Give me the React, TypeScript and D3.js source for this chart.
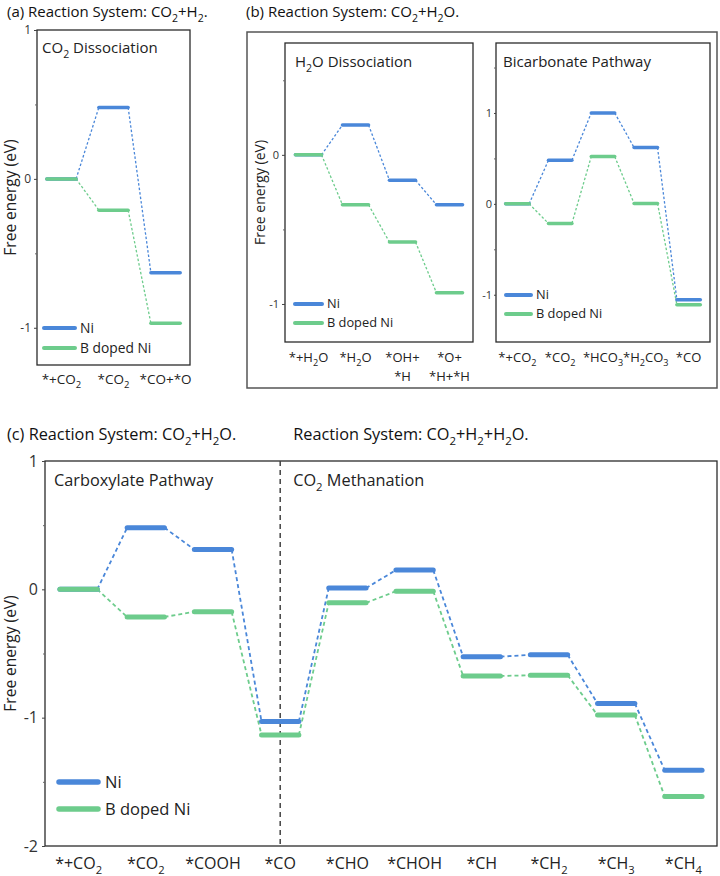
import React, { useEffect, useRef } from "react";
import * as d3 from "d3";

// free energy levels (eV) per reaction step; "_x" marks a subscript
const stepsCO2 = ["*+CO_2", "*CO_2", "*CO+*O"];
const niCO2 = [0, 0.48, -0.63];
const bNiCO2 = [0, -0.21, -0.97];

const stepsH2O = [["*+H_2O"], ["*H_2O"], ["*OH+", "*H"], ["*O+", "*H+*H"]];
const niH2O = [0, 0.2, -0.17, -0.335];
const bNiH2O = [0, -0.335, -0.585, -0.925];

const stepsBicarb = ["*+CO_2", "*CO_2", "*HCO_3", "*H_2CO_3", "*CO"];
const niBicarb = [0, 0.48, 1.0, 0.62, -1.055];
const bNiBicarb = [0, -0.215, 0.52, 0.005, -1.11];

const stepsMeth = ["*+CO_2", "*CO_2", "*COOH", "*CO", "*CHO", "*CHOH", "*CH", "*CH_2", "*CH_3", "*CH_4"];
const niMeth = [0, 0.48, 0.31, -1.03, 0.01, 0.15, -0.525, -0.51, -0.89, -1.41];
const bNiMeth = [0, -0.215, -0.175, -1.135, -0.105, -0.015, -0.675, -0.67, -0.98, -1.615];

const seriesNames = ["Ni", "B doped Ni"];
const BLUE = "#4a87d9";
const GREEN = "#6dcc8c";
const FONT = "'Open Sans', 'Noto Sans', sans-serif";

function richText(sel, str, fs) {
  const parts = str.split(/(_.)/).filter(Boolean);
  let sub = false;
  parts.forEach(part => {
    if (part.startsWith("_")) {
      sel.append("tspan").attr("font-size", fs * 0.7).attr("dy", fs * 0.3).text(part.slice(1));
      sub = true;
    } else {
      const t = sel.append("tspan").text(part);
      if (sub) t.attr("dy", -fs * 0.3);
      sub = false;
    }
  });
  return sel;
}

function drawPanel(svg, p) {
  const g = svg.append("g");
  const n = p.labels.length;

  const x = d3.scalePoint().domain(d3.range(n)).range([p.left, p.right]).padding(p.pad);
  const y = d3.scaleLinear().domain(p.domain).range([p.bottom, p.top]);
  const half = (x.step() * 0.63 - p.barW) / 2;

  // frame
  g.append("rect")
    .attr("x", p.left).attr("y", p.top)
    .attr("width", p.right - p.left).attr("height", p.bottom - p.top)
    .attr("fill", "none").attr("stroke", "#2b2b2b").attr("stroke-width", 1.3);

  // major + minor ticks
  const major = g.append("g").attr("transform", `translate(${p.left},0)`)
    .call(d3.axisLeft(y).tickValues(p.ticks).tickSize(p.tickSize).tickPadding(p.tickPad).tickFormat(d => String(d)));
  major.select(".domain").remove();
  major.selectAll("line").attr("stroke", "#444");
  major.selectAll("text").attr("font-size", p.tickFont).attr("font-family", FONT).attr("fill", "#333");

  const minor = g.append("g").attr("transform", `translate(${p.left},0)`)
    .call(d3.axisLeft(y).tickValues(p.minor).tickSize(2).tickFormat(() => ""));
  minor.select(".domain").remove();
  minor.selectAll("line").attr("stroke", "#666");

  if (p.divider !== undefined) {
    g.append("line")
      .attr("x1", x(p.divider)).attr("x2", x(p.divider))
      .attr("y1", p.top).attr("y2", p.bottom)
      .attr("stroke", "#444").attr("stroke-width", 1.5).attr("stroke-dasharray", "5,4");
  }

  // connectors then levels, Ni below B doped Ni
  const series = [p.ni, p.bni];
  const colors = [BLUE, GREEN];
  series.forEach((vals, si) => {
    g.append("g").selectAll("line")
      .data(d3.range(n - 1))
      .join("line")
      .attr("x1", i => x(i) + half).attr("y1", i => y(vals[i]))
      .attr("x2", i => x(i + 1) - half).attr("y2", i => y(vals[i + 1]))
      .attr("stroke", colors[si]).attr("stroke-width", p.dashW)
      .attr("stroke-dasharray", p.dash);
  });
  series.forEach((vals, si) => {
    g.append("g").selectAll("line")
      .data(vals)
      .join("line")
      .attr("x1", (d, i) => x(i) - half).attr("x2", (d, i) => x(i) + half)
      .attr("y1", d => y(d)).attr("y2", d => y(d))
      .attr("stroke", colors[si]).attr("stroke-width", p.barW)
      .attr("stroke-linecap", "round");
  });

  // step labels
  p.labels.forEach((lab, i) => {
    const lines = Array.isArray(lab) ? lab : [lab];
    lines.forEach((line, li) => {
      const t = g.append("text")
        .attr("x", x(i)).attr("y", p.labelY + li * p.labelLineH)
        .attr("text-anchor", "middle")
        .attr("font-family", FONT).attr("font-size", p.labelFont).attr("fill", "#222");
      richText(t, line, p.labelFont);
    });
  });

  // legend
  if (p.legend) {
    const L = p.legend;
    seriesNames.forEach((name, si) => {
      const ly = L.y + si * L.gap;
      g.append("line")
        .attr("x1", L.x).attr("x2", L.x + L.len)
        .attr("y1", ly).attr("y2", ly)
        .attr("stroke", colors[si]).attr("stroke-width", p.barW + 0.5)
        .attr("stroke-linecap", "round");
      g.append("text")
        .attr("x", L.x + L.len + L.textGap).attr("y", ly)
        .attr("dy", "0.35em")
        .attr("font-family", FONT).attr("font-size", L.font).attr("fill", "#222")
        .text(name);
    });
  }

  // titles inside the frame
  (p.titles || []).forEach(tt => {
    const t = g.append("text")
      .attr("x", tt.x).attr("y", tt.y)
      .attr("font-family", FONT).attr("font-size", tt.font).attr("fill", "#222");
    richText(t, tt.text, tt.font);
  });

  if (p.yLabel) {
    g.append("text")
      .attr("transform", `translate(${p.yLabel.x},${(p.top + p.bottom) / 2}) rotate(-90)`)
      .attr("text-anchor", "middle").attr("dy", "0.35em")
      .attr("font-family", FONT).attr("font-size", p.yLabel.font).attr("fill", "#222")
      .text("Free energy (eV)");
  }
  return { x, y };
}

const App = () => {
  const svgRef = useRef(null);

  useEffect(() => {
    const svg = d3.select(svgRef.current);
    svg.selectAll("*").remove();

    svg.append("rect").attr("width", 720).attr("height", 876).attr("fill", "#fff");

    // headings
    const head = (txt, x0, y0, fs) => {
      const t = svg.append("text").attr("x", x0).attr("y", y0)
        .attr("font-family", FONT).attr("font-size", fs).attr("fill", "#111");
      richText(t, txt, fs);
    };
    head("(a) Reaction System: CO_2+H_2.", 7, 17, 15);
    head("(b) Reaction System: CO_2+H_2O.", 246, 17, 15);
    head("(c) Reaction System: CO_2+H_2O.", 7, 440, 16.3);

    // (b) outer box
    svg.append("rect")
      .attr("x", 247).attr("y", 32).attr("width", 470).attr("height", 356)
      .attr("fill", "none").attr("stroke", "#555").attr("stroke-width", 1.5);

    drawPanel(svg, {
      left: 37, right: 190, top: 30, bottom: 365, pad: 0.47,
      domain: [-1.25, 1], ticks: [1, 0, -1], minor: [0.5, -0.5],
      tickSize: 3, tickPad: 3, tickFont: 12,
      labels: stepsCO2, ni: niCO2, bni: bNiCO2,
      barW: 3.5, dashW: 1.3, dash: "2.5,2",
      labelY: 384, labelLineH: 18, labelFont: 13.5,
      legend: { x: 44, y: 328, gap: 20, len: 31, textGap: 5, font: 13.8 },
      titles: [{ text: "CO_2 Dissociation", x: 42, y: 53, font: 15 }],
      yLabel: { x: 11, font: 15.5 },
    });

    drawPanel(svg, {
      left: 285, right: 473, top: 43, bottom: 342, pad: 0.5,
      domain: [-1.255, 0.75], ticks: [0, -1], minor: [0.5, -0.5],
      tickSize: 3, tickPad: 3, tickFont: 11,
      labels: stepsH2O, ni: niH2O, bni: bNiH2O,
      barW: 3.5, dashW: 1.3, dash: "2.5,2",
      labelY: 362, labelLineH: 19, labelFont: 13,
      legend: { x: 295, y: 304, gap: 19, len: 27, textGap: 5, font: 12.8 },
      titles: [{ text: "H_2O Dissociation", x: 295, y: 67, font: 15 }],
      yLabel: { x: 260, font: 14 },
    });

    drawPanel(svg, {
      left: 496, right: 710, top: 43, bottom: 342, pad: 0.5,
      domain: [-1.52, 1.77], ticks: [1, 0, -1], minor: [1.5, 0.5, -0.5],
      tickSize: 2, tickPad: 2, tickFont: 11,
      labels: stepsBicarb, ni: niBicarb, bni: bNiBicarb,
      barW: 3.5, dashW: 1.3, dash: "2.5,2",
      labelY: 362, labelLineH: 19, labelFont: 13,
      legend: { x: 506, y: 295, gap: 19, len: 25, textGap: 5, font: 12.8 },
      titles: [{ text: "Bicarbonate Pathway", x: 503, y: 67, font: 15 }],
    });

    const c = drawPanel(svg, {
      left: 45, right: 717, top: 461, bottom: 846, pad: 0.5,
      domain: [-2, 1], ticks: [1, 0, -1, -2], minor: [0.5, -0.5, -1.5],
      tickSize: 3, tickPad: 4, tickFont: 16,
      labels: stepsMeth, ni: niMeth, bni: bNiMeth,
      barW: 5, dashW: 1.8, dash: "4,3",
      labelY: 869, labelLineH: 20, labelFont: 16,
      legend: { x: 59, y: 782, gap: 27, len: 39, textGap: 7, font: 16.5 },
      titles: [{ text: "Carboxylate Pathway", x: 54, y: 486, font: 16.3 }],
      yLabel: { x: 11, font: 15.5 },
      divider: 3,
    });

    const xc = c.x(3) + 13;
    head("Reaction System: CO_2+H_2+H_2O.", xc, 440, 16.3);
    const t = svg.append("text").attr("x", xc).attr("y", 486)
      .attr("font-family", FONT).attr("font-size", 16.3).attr("fill", "#222");
    richText(t, "CO_2 Methanation", 16.3);
  }, []);

  return (
    <svg ref={svgRef} width={720} height={876}
      style={{ position: "absolute", left: 0, top: 0, display: "block" }} />
  );
};

export default App;
